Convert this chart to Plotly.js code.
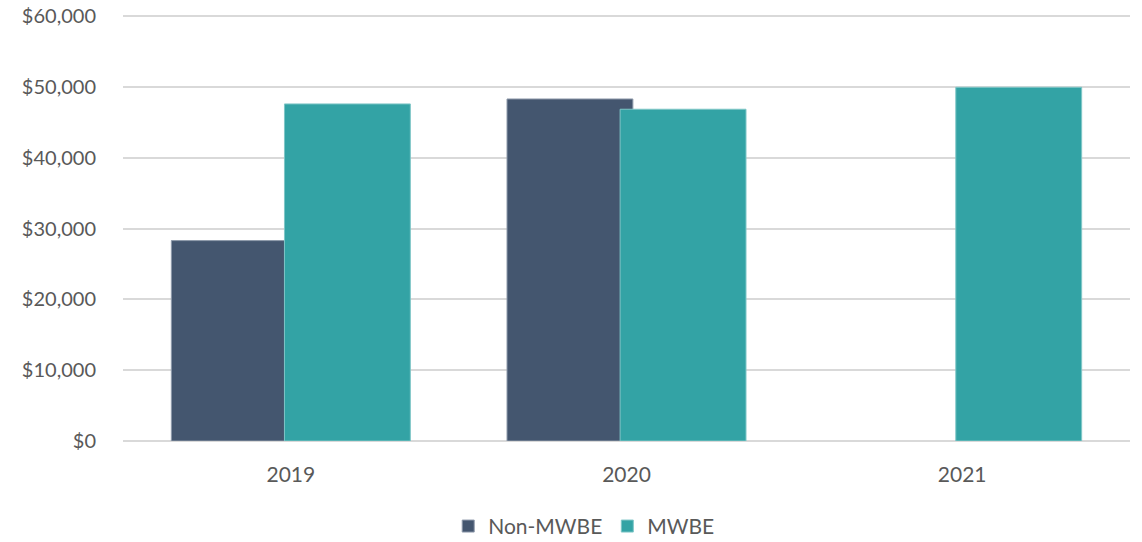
<!DOCTYPE html>
<html><head><meta charset="utf-8">
<script src="https://cdn.plot.ly/plotly-3.0.1.min.js"></script>
<style>html,body{margin:0;padding:0;background:#fff}#chart{width:1142px;height:542px}</style>
</head><body><div id="chart"></div>
<script>
const years = ["2019", "2020", "2021"];
const nonMwbe = [28300, 48300, null];
const mwbe = [47600, 46850, 49950];
const seriesNames = ["Non-MWBE", "MWBE"];
const tickVals = [0, 10000, 20000, 30000, 40000, 50000, 60000];
const tickText = ["$0", "$10,000", "$20,000", "$30,000", "$40,000", "$50,000", "$60,000"];

const fam = "Lato, 'Open Sans', sans-serif";
const yFont = {family: fam, size: 20, color: "#595959"};
const xFont = {family: fam, size: 21, color: "#595959"};
const traces = [
  {type: "bar", name: seriesNames[0], x: years, y: nonMwbe, width: 0.375, offset: -0.356,
   marker: {color: "#44566F", line: {color: "#8E9AAB", width: 1}}, hoverinfo: "y"},
  {type: "bar", name: seriesNames[1], x: years, y: mwbe, width: 0.375, offset: -0.019,
   marker: {color: "#33A3A5", line: {color: "#7FC6C7", width: 1}}, hoverinfo: "y"}
];
const layout = {
  width: 1142, height: 542,
  margin: {l: 123, r: 12, t: 14, b: 101, autoexpand: false},
  barmode: "overlay",
  paper_bgcolor: "#fff", plot_bgcolor: "#fff",
  font: xFont,
  xaxis: {type: "category", showgrid: false, zeroline: false, showline: false, automargin: false,
          ticks: "", ticklabelstandoff: 19, tickfont: xFont},
  yaxis: {range: [0, 60300], tickvals: tickVals, ticktext: tickText, automargin: false,
          showgrid: true, gridcolor: "#D9D9D9", gridwidth: 2,
          zeroline: true, zerolinecolor: "#D9D9D9", zerolinewidth: 2,
          showline: false, ticks: "", ticklabelstandoff: 26, tickfont: yFont},
  showlegend: true,
  legend: {orientation: "h", x: 0.458, xanchor: "center", y: -0.2, yanchor: "middle",
           font: xFont, itemwidth: 30, traceorder: "normal"},
  bargap: 0
};
Plotly.newPlot("chart", traces, layout, {displayModeBar: false, staticPlot: true});
</script></body></html>
